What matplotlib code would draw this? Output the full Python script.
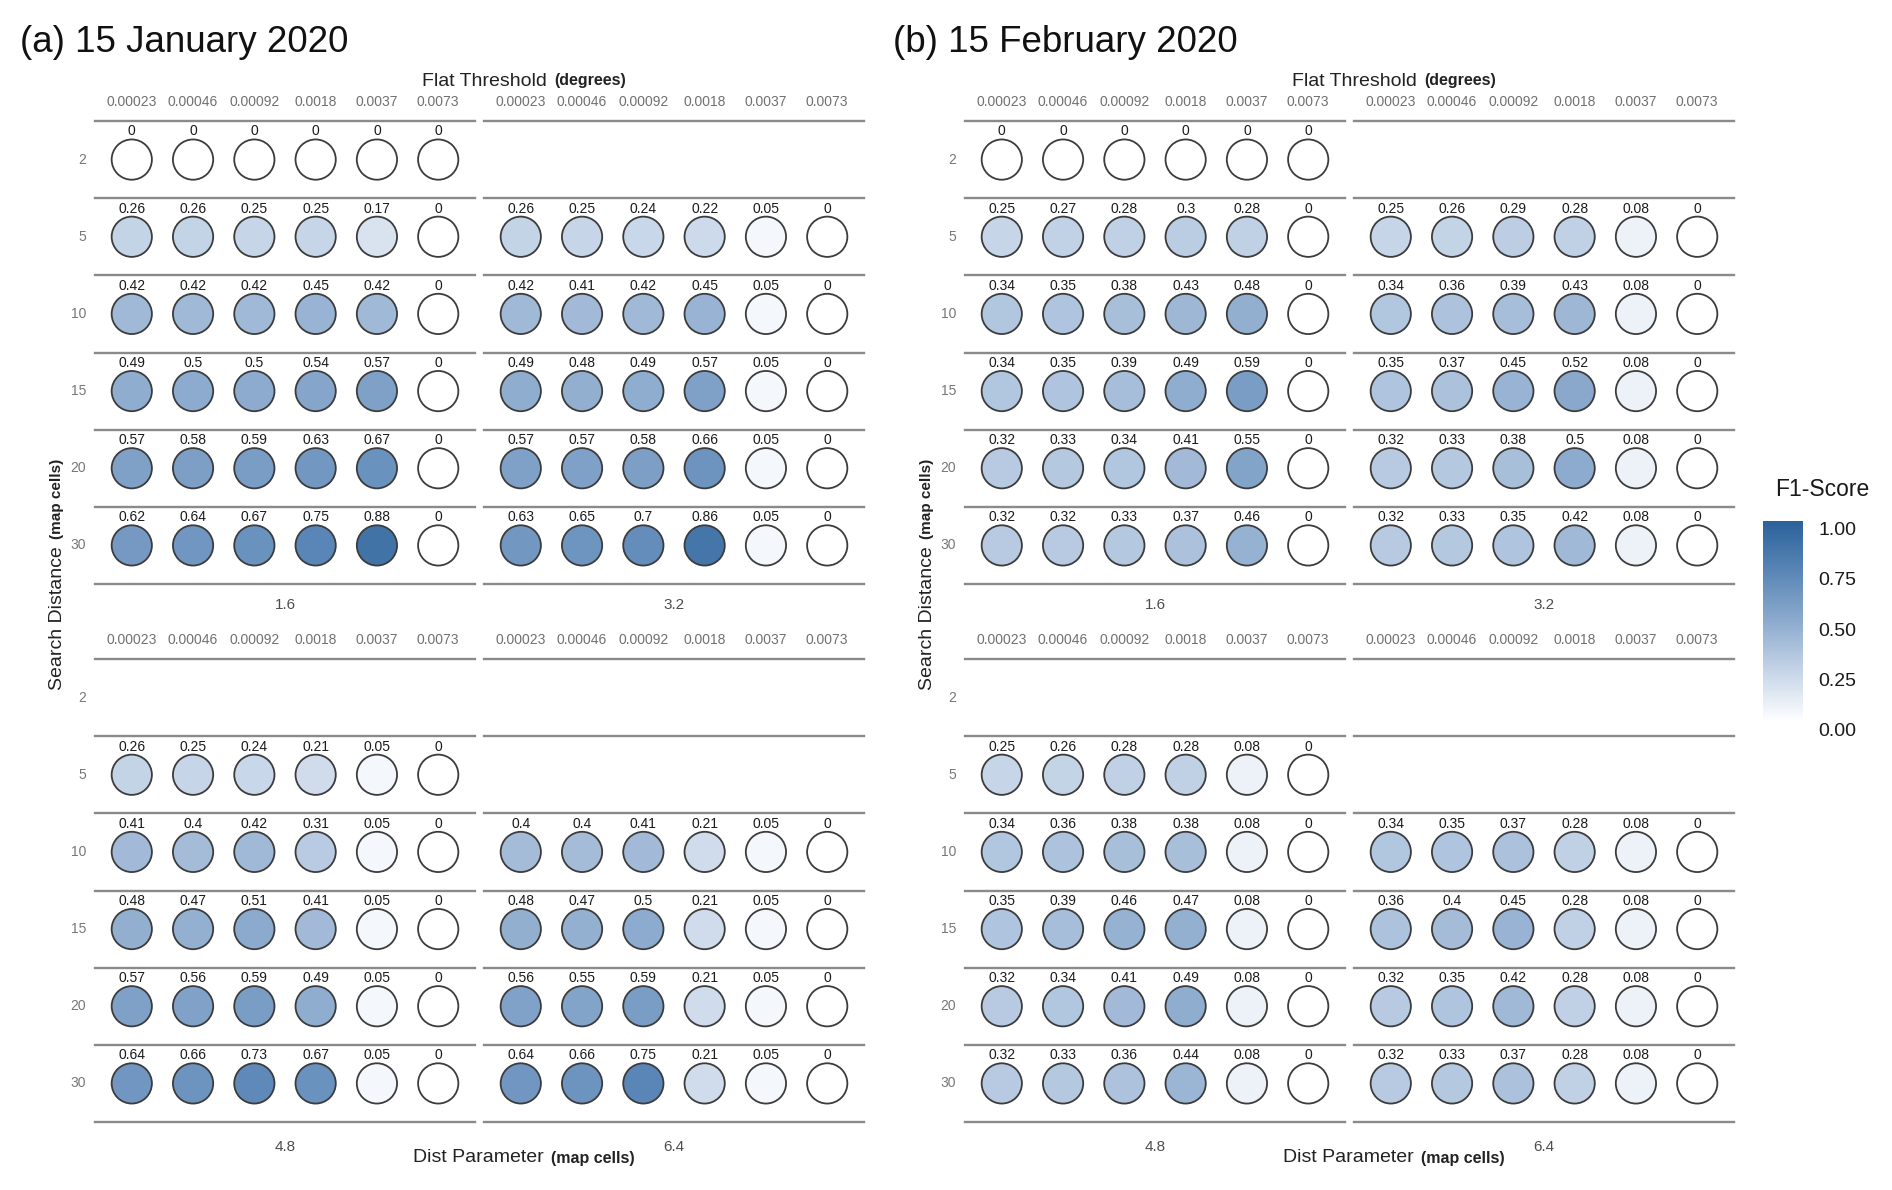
import numpy as np
import matplotlib
matplotlib.use("Agg")
import matplotlib.pyplot as plt
from matplotlib.colors import LinearSegmentedColormap, Normalize
from matplotlib.cm import ScalarMappable
from matplotlib.text import Annotation

plt.rcParams['font.family'] = ['Liberation Sans', 'DejaVu Sans']

W, H = 1892, 1190

thresholds = ["0.00023", "0.00046", "0.00092", "0.0018", "0.0037", "0.0073"]
search_dist = ["2", "5", "10", "15", "20", "30"]
dist_params = ["1.6", "3.2", "4.8", "6.4"]
legend_ticks = [0, 0.25, 0.5, 0.75, 1.0]

# F1 scores, one row per search distance (2,5,10,15,20,30); None = no run
jan_16 = [[0, 0, 0, 0, 0, 0],
          [0.26, 0.26, 0.25, 0.25, 0.17, 0],
          [0.42, 0.42, 0.42, 0.45, 0.42, 0],
          [0.49, 0.5, 0.5, 0.54, 0.57, 0],
          [0.57, 0.58, 0.59, 0.63, 0.67, 0],
          [0.62, 0.64, 0.67, 0.75, 0.88, 0]]
jan_32 = [None,
          [0.26, 0.25, 0.24, 0.22, 0.05, 0],
          [0.42, 0.41, 0.42, 0.45, 0.05, 0],
          [0.49, 0.48, 0.49, 0.57, 0.05, 0],
          [0.57, 0.57, 0.58, 0.66, 0.05, 0],
          [0.63, 0.65, 0.7, 0.86, 0.05, 0]]
jan_48 = [None,
          [0.26, 0.25, 0.24, 0.21, 0.05, 0],
          [0.41, 0.4, 0.42, 0.31, 0.05, 0],
          [0.48, 0.47, 0.51, 0.41, 0.05, 0],
          [0.57, 0.56, 0.59, 0.49, 0.05, 0],
          [0.64, 0.66, 0.73, 0.67, 0.05, 0]]
jan_64 = [None,
          None,
          [0.4, 0.4, 0.41, 0.21, 0.05, 0],
          [0.48, 0.47, 0.5, 0.21, 0.05, 0],
          [0.56, 0.55, 0.59, 0.21, 0.05, 0],
          [0.64, 0.66, 0.75, 0.21, 0.05, 0]]

feb_16 = [[0, 0, 0, 0, 0, 0],
          [0.25, 0.27, 0.28, 0.3, 0.28, 0],
          [0.34, 0.35, 0.38, 0.43, 0.48, 0],
          [0.34, 0.35, 0.39, 0.49, 0.59, 0],
          [0.32, 0.33, 0.34, 0.41, 0.55, 0],
          [0.32, 0.32, 0.33, 0.37, 0.46, 0]]
feb_32 = [None,
          [0.25, 0.26, 0.29, 0.28, 0.08, 0],
          [0.34, 0.36, 0.39, 0.43, 0.08, 0],
          [0.35, 0.37, 0.45, 0.52, 0.08, 0],
          [0.32, 0.33, 0.38, 0.5, 0.08, 0],
          [0.32, 0.33, 0.35, 0.42, 0.08, 0]]
feb_48 = [None,
          [0.25, 0.26, 0.28, 0.28, 0.08, 0],
          [0.34, 0.36, 0.38, 0.38, 0.08, 0],
          [0.35, 0.39, 0.46, 0.47, 0.08, 0],
          [0.32, 0.34, 0.41, 0.49, 0.08, 0],
          [0.32, 0.33, 0.36, 0.44, 0.08, 0]]
feb_64 = [None,
          None,
          [0.34, 0.35, 0.37, 0.28, 0.08, 0],
          [0.36, 0.4, 0.45, 0.28, 0.08, 0],
          [0.32, 0.35, 0.42, 0.28, 0.08, 0],
          [0.32, 0.33, 0.37, 0.28, 0.08, 0]]

panels = [("(a) 15 January 2020", [jan_16, jan_32, jan_48, jan_64], 0, 20),
          ("(b) 15 February 2020", [feb_16, feb_32, feb_48, feb_64], 870, 893)]


def px(x, y):
    return x / W, 1 - y / H


fig = plt.figure(figsize=(W / 100, H / 100), dpi=100)
cmap = LinearSegmentedColormap.from_list(
    "f1", [(0, "#ffffff"), (0.25, "#c6d5e8"), (0.5, "#8dabce"),
           (0.75, "#5a86b6"), (1.0, "#2a629a")])
norm = Normalize(0, 1)

facet_x = [95, 484]
facet_y = [(121, 584), (659, 1122)]
strip_gap = [21, 25]


def two_part(x, y, big, small, vertical=False):
    if vertical:
        t = fig.text(*px(x, y), big, rotation=90, ha='center', va='bottom',
                     fontsize=14, color='#222222')
        fig.add_artist(Annotation(small, xy=(0.5, 1), xycoords=t, xytext=(0, 5),
                                  textcoords='offset points', rotation=90,
                                  ha='center', va='bottom', fontsize=11,
                                  fontweight='bold', color='#222222'))
    else:
        t = fig.text(*px(x, y), big, ha='left', va='center', fontsize=14,
                     color='#222222')
        fig.add_artist(Annotation(small, xy=(1, 0.5), xycoords=t, xytext=(5, 0),
                                  textcoords='offset points', ha='left',
                                  va='center', fontsize=11.5, fontweight='bold',
                                  color='#222222'))


for title, facets, dx, tx in panels:
    fig.text(*px(tx, 42), title, ha='left', va='center', fontsize=26.5, color='#111111')

    for k, vals in enumerate(facets):
        col, row = k % 2, k // 2
        x0 = facet_x[col] + dx
        x1 = x0 + 380
        y0, y1 = facet_y[row]
        ax = fig.add_axes([x0 / W, 1 - y1 / H, (x1 - x0) / W, (y1 - y0) / H])
        ax.set_xlim(-0.6, 5.6)
        ax.set_ylim(6, 0)
        ax.axis('off')

        for r in range(7):
            ax.axhline(r, color='#8a8a8a', lw=1.7, clip_on=False, zorder=1)

        for j, lab in enumerate(thresholds):
            ax.annotate(lab, xy=(j, 0), xytext=(0, 14), textcoords='offset points',
                        ha='center', va='center', fontsize=10, color='#707070',
                        annotation_clip=False)

        if col == 0:
            for i, lab in enumerate(search_dist):
                ax.annotate(lab, xy=(0, i + 0.5), xycoords=('axes fraction', 'data'),
                            xytext=(-6.5, 0), textcoords='offset points',
                            ha='right', va='center', fontsize=10, color='#777777',
                            annotation_clip=False)

        for i, rowvals in enumerate(vals):
            if rowvals is None:
                continue
            xs = np.arange(len(rowvals))
            ax.scatter(xs, np.full(len(rowvals), i + 0.5), s=840, c=rowvals,
                       cmap=cmap, norm=norm, edgecolors='#3c3c3c',
                       linewidths=1.3, zorder=3, clip_on=False)
            for j, v in enumerate(rowvals):
                ax.text(j, i + 0.135, f"{v:g}", ha='center', va='center',
                        fontsize=10, color='#1a1a1a', zorder=4)

        fig.text(*px((x0 + x1) / 2, y1 + strip_gap[row]), dist_params[k],
                 ha='center', va='center', fontsize=11, color='#4d4d4d')

    two_part(422 + dx, 81, "Flat Threshold", "(degrees)")
    two_part(413 + dx, 1158, "Dist Parameter", "(map cells)")
    two_part(57 + dx, 690, "Search Distance", "(map cells)", vertical=True)

# colour legend
fig.text(*px(1822, 490), "F1-Score", ha='center', va='center', fontsize=16.5,
         color='#1a1a1a')
cax = fig.add_axes([1763 / W, 1 - 722 / H, 40 / W, 201 / H])
cb = fig.colorbar(ScalarMappable(norm=norm, cmap=cmap), cax=cax, ticks=legend_ticks)
cb.outline.set_visible(False)
cb.ax.tick_params(length=0, labelright=False)
for v in legend_ticks:
    cax.annotate(f"{v:.2f}", xy=(1, v), xycoords=('axes fraction', 'data'),
                 xytext=(11, -7), textcoords='offset points', ha='left',
                 va='center', fontsize=14, color='#1a1a1a', annotation_clip=False)

fig.savefig("out.png", dpi=100, facecolor='white')
